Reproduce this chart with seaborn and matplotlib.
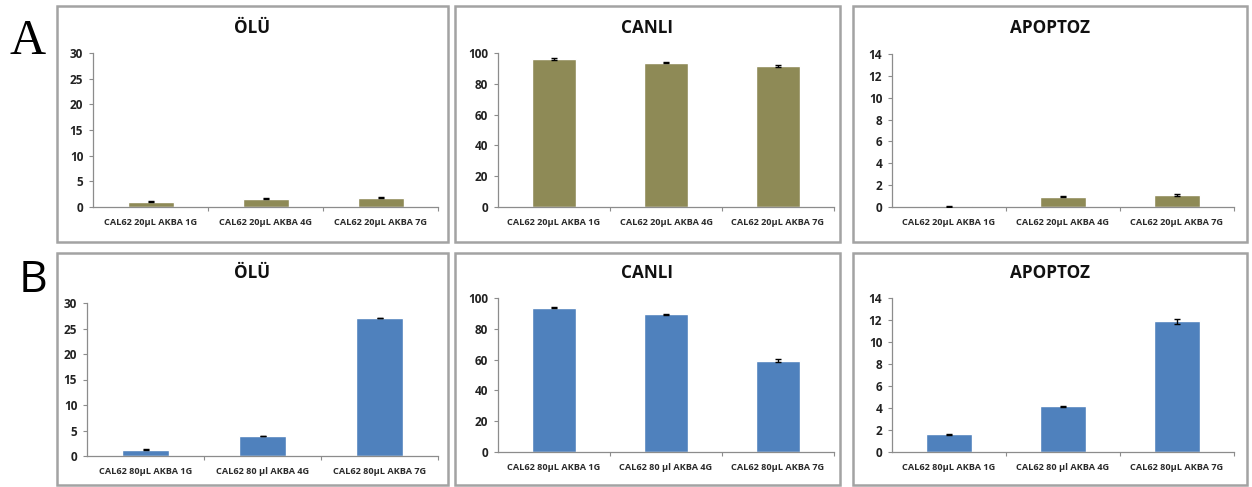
import matplotlib
matplotlib.use("Agg")
import matplotlib.pyplot as plt
from matplotlib.patches import Rectangle
import seaborn as sns
import pandas as pd

# ---- data -------------------------------------------------------------
labels_a = ["CAL62 20µL AKBA 1G", "CAL62 20µL AKBA 4G", "CAL62 20µL AKBA 7G"]
labels_b = ["CAL62 80µL AKBA 1G", "CAL62 80 µl AKBA 4G", "CAL62 80µL AKBA 7G"]

titles = ["ÖLÜ", "CANLI", "APOPTOZ"]
y_max = [30, 100, 14]
y_step = [5, 20, 2]

olu_a = [1.05, 1.65, 1.85]
olu_a_err = [0.12, 0.05, 0.05]
canli_a = [96.0, 93.8, 91.6]
canli_a_err = [0.5, 0.3, 0.8]
apoptoz_a = [0.05, 0.95, 1.10]
apoptoz_a_err = [0.03, 0.04, 0.08]

olu_b = [1.2, 3.9, 27.1]
olu_b_err = [0.10, 0.05, 0.05]
canli_b = [93.6, 89.3, 59.4]
canli_b_err = [0.4, 0.5, 1.2]
apoptoz_b = [1.60, 4.15, 11.87]
apoptoz_b_err = [0.03, 0.03, 0.20]

olive = "#8E8A56"
blue = "#4F81BD"

# ---- layout (pixels) --------------------------------------------------
W, H = 1252, 487
sns.set_theme(style="white")
plt.rcParams["font.family"] = ["Open Sans", "DejaVu Sans"]

fig = plt.figure(figsize=(W / 100, H / 100), dpi=100)
fig.patch.set_facecolor("white")


def fig_rect(x0, y0, x1, y1):
    return [x0 / W, 1 - y1 / H, (x1 - x0) / W, (y1 - y0) / H]


panel_boxes = [
    [(57, 6, 448, 242), (455, 6, 840, 242), (853, 6, 1247, 242)],
    [(57, 253, 448, 485), (455, 253, 840, 485), (853, 253, 1247, 485)],
]
axes_boxes = [
    [(93, 53, 438, 207), (498, 53, 834, 207), (892, 54, 1234, 207)],
    [(87, 303, 438, 456), (498, 298, 834, 452), (892, 298, 1234, 452)],
]
rows = [
    (labels_a, [(olu_a, olu_a_err), (canli_a, canli_a_err), (apoptoz_a, apoptoz_a_err)], olive),
    (labels_b, [(olu_b, olu_b_err), (canli_b, canli_b_err), (apoptoz_b, apoptoz_b_err)], blue),
]

for r, (labels, series, color) in enumerate(rows):
    for c, (vals, errs) in enumerate(series):
        bx0, by0, bx1, by1 = panel_boxes[r][c]
        fig.add_artist(Rectangle((bx0 / W, 1 - by1 / H), (bx1 - bx0) / W, (by1 - by0) / H,
                                 transform=fig.transFigure, facecolor="white",
                                 edgecolor="#A3A3A3", linewidth=1.8, zorder=0))
        ax = fig.add_axes(fig_rect(*axes_boxes[r][c]))
        ax.set_facecolor("none")
        df = pd.DataFrame({"grup": labels, "deger": vals})
        sns.barplot(data=df, x="grup", y="deger", color=color, saturation=1,
                    width=0.4, errorbar=None, ax=ax, zorder=2)
        ax.errorbar(range(len(vals)), vals, yerr=errs, fmt="none", ecolor="black",
                    elinewidth=1.0, capsize=2.5, capthick=1.0, zorder=3)
        ax.set_xlim(-0.5, 2.5)
        ax.set_ylim(0, y_max[c])
        ax.set_yticks(range(0, y_max[c] + 1, y_step[c]))
        ax.set_xlabel("")
        ax.set_ylabel("")
        ax.set_xticks([0, 1, 2])
        ax.set_xticklabels(labels, fontsize=6.6, fontweight="bold", color="#2A2A2A")
        ax.set_xticks([0.5, 1.5, 2.5], minor=True)
        ax.tick_params(axis="x", which="major", length=0, pad=8)
        ax.tick_params(axis="x", which="minor", length=3, width=0.8, color="#8C8C8C",
                       direction="out", bottom=True)
        ax.tick_params(axis="y", length=3, width=0.8, color="#8C8C8C", direction="out",
                       left=True, labelsize=8.5, pad=4)
        for t in ax.get_yticklabels():
            t.set_fontweight("bold")
            t.set_color("#222222")
        for side in ("top", "right"):
            ax.spines[side].set_visible(False)
        for side in ("left", "bottom"):
            ax.spines[side].set_color("#8C8C8C")
            ax.spines[side].set_linewidth(0.9)
        cx = (bx0 + bx1) / 2 / W
        ty = 28 if r == 0 else 273
        fig.text(cx, 1 - ty / H, titles[c], ha="center", va="center",
                 fontsize=12.3, fontweight="bold", color="#111111")

fig.text(28 / W, 1 - 42 / H, "A", ha="center", va="center", fontsize=36,
         family=["Liberation Serif", "DejaVu Serif"], color="black")
fig.text(33 / W, 1 - 281 / H, "B", ha="center", va="center", fontsize=32,
         family=["Open Sans", "DejaVu Sans"], color="black")

fig.savefig("out.png", dpi=100, facecolor="white")
